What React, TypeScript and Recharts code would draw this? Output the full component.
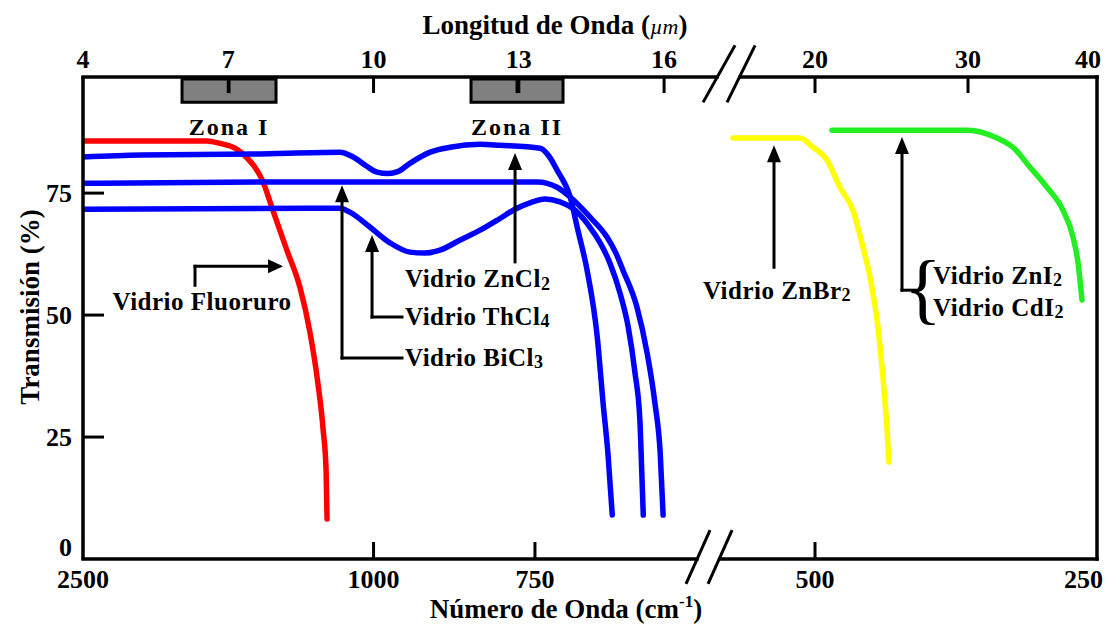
import { LineChart, Line, XAxis, YAxis, ReferenceLine, ReferenceDot, ReferenceArea, Label } from "recharts";

const serif = '"Liberation Serif", "Times New Roman", Times, serif';

// transmission curves: wavelength (µm) and transmission (%)
const fluoruroWl = [4.0, 6.56, 6.83, 7.14, 7.39, 7.55, 7.7, 7.92, 8.21, 8.48, 8.69, 8.85, 8.96, 9.02, 9.04];
const fluoruroT = [85.7, 85.7, 85.2, 84.2, 82.2, 80.3, 77.7, 71.5, 63.3, 55.7, 46.3, 36.1, 26.4, 18.2, 8.2];

const znCl2Wl = [4.0, 5.2, 7.5, 9.31, 9.58, 9.86, 10.07, 10.3, 10.5, 10.75, 11.17, 11.58, 12.2, 12.61, 13.44, 13.62, 13.79, 14.06, 14.22, 14.41, 14.62, 14.74, 14.84, 14.93];
const znCl2T = [82.4, 82.8, 83.0, 83.4, 82.4, 80.5, 79.3, 79.0, 79.4, 81.1, 83.4, 84.4, 85.0, 84.8, 84.2, 82.6, 79.7, 74.2, 67.4, 59.2, 45.5, 32.0, 21.7, 9.0];

const biCl3Wl = [4.0, 8.07, 13.38, 13.79, 14.06, 14.47, 14.82, 15.0, 15.15, 15.44, 15.65, 15.81, 15.92, 15.98];
const biCl3T = [77.0, 77.3, 77.3, 76.2, 74.2, 70.1, 66.0, 62.8, 59.2, 51.6, 42.2, 32.0, 21.7, 9.0];

const thCl4Wl = [4.0, 6.42, 9.31, 9.51, 9.93, 10.34, 10.75, 11.06, 11.37, 11.79, 12.2, 12.61, 12.92, 13.23, 13.54, 13.85, 14.16, 14.47, 14.68, 14.88, 15.09, 15.26, 15.4, 15.5, 15.54, 15.57];
const thCl4T = [71.7, 71.8, 71.9, 71.1, 68.0, 64.8, 62.9, 62.7, 63.3, 65.4, 67.4, 69.8, 71.7, 73.0, 73.8, 73.2, 71.5, 68.0, 64.8, 60.7, 54.5, 47.5, 38.1, 28.5, 17.6, 9.0];

const znBr2Wl = [15.47, 17.44, 19.12, 19.88, 20.71, 21.49, 22.29, 22.85, 23.36, 23.87, 24.19, 24.45, 24.58];
const znBr2T = [86.3, 86.3, 86.3, 84.4, 81.8, 76.2, 71.5, 64.8, 57.8, 47.5, 37.3, 27.0, 19.9];

const znI2Wl = [21.01, 25.5, 30.0, 32.12, 33.32, 34.63, 35.95, 37.22, 38.03, 38.44, 38.76];
const znI2T = [87.9, 87.9, 87.9, 86.3, 84.4, 80.3, 76.2, 71.5, 66.0, 60.7, 53.1];

// axis ticks
const wlTicksLeft = [4, 7, 10, 13, 16];
const wlTicksRight = [20, 30, 40];
const wnTicksLeft = [2500, 1000, 750];
const wnTicksRight = [500, 250];
const tTicks = [0, 25, 50, 75];

// broken x axis: linear in µm up to the break, sqrt beyond it
const LIN_DOMAIN: [number, number] = [4, 24.94];
const SQRT_DOMAIN: [number, number] = [-0.1132, 40];
const T_DOMAIN: [number, number] = [0, 98.8];

const rows = (wl: number[], t: number[]) => wl.map((w, i) => ({ w, t: t[i] }));

const curves = [
  { id: "fluoruro", axis: "lin", color: "#ff0000", data: rows(fluoruroWl, fluoruroT) },
  { id: "zncl2", axis: "lin", color: "#0000ff", data: rows(znCl2Wl, znCl2T) },
  { id: "bicl3", axis: "lin", color: "#0000ff", data: rows(biCl3Wl, biCl3T) },
  { id: "thcl4", axis: "lin", color: "#0000ff", data: rows(thCl4Wl, thCl4T) },
  { id: "znbr2", axis: "sqrt", color: "#ffff00", data: rows(znBr2Wl, znBr2T) },
  { id: "zni2", axis: "sqrt", color: "#22ee22", data: rows(znI2Wl, znI2T) },
];

// annotation layout (axis coordinates)
const zones = [
  { label: "Zona I", w1: 6.045, w2: 7.986 },
  { label: "Zona II", w1: 12.013, w2: 13.913 },
];

const upArrows = [
  { axis: "lin", w: 9.349, from: 41.2, to: 76.6 },
  { axis: "lin", w: 9.969, from: 49.6, to: 66.4 },
  { axis: "lin", w: 12.922, from: 60.9, to: 83.2 },
  { axis: "sqrt", w: 17.663, from: 59.8, to: 84.8 },
  { axis: "sqrt", w: 25.438, from: 55.1, to: 86.5 },
];

const elbows = [
  { axis: "lin", t: 41.2, w1: 9.349, w2: 10.588 },
  { axis: "lin", t: 49.6, w1: 9.969, w2: 10.588 },
  { axis: "sqrt", t: 55.1, w1: 25.438, w2: 26.374 },
  { axis: "lin", t: 60.0, w1: 6.313, w2: 7.88 },
];

const notes = [
  { axis: "lin", w: 6.458, t: 52.7, text: "Vidrio Fluoruro", sub: "", anchor: "middle" },
  { axis: "lin", w: 10.65, t: 57.4, text: "Vidrio ZnCl", sub: "2", anchor: "start" },
  { axis: "lin", w: 10.65, t: 49.8, text: "Vidrio ThCl", sub: "4", anchor: "start" },
  { axis: "lin", w: 10.65, t: 41.4, text: "Vidrio BiCl", sub: "3", anchor: "start" },
  { axis: "sqrt", w: 17.829, t: 55.1, text: "Vidrio ZnBr", sub: "2", anchor: "middle" },
  { axis: "sqrt", w: 27.534, t: 58.2, text: "Vidrio ZnI", sub: "2", anchor: "start" },
  { axis: "sqrt", w: 27.534, t: 51.6, text: "Vidrio CdI", sub: "2", anchor: "start" },
];

const frame = [
  { axis: "lin", a: { x: 4, y: 98.8 }, b: { x: 17.09, y: 98.8 } },
  { axis: "lin", a: { x: 17.57, y: 98.8 }, b: { x: 24.94, y: 98.8 } },
  { axis: "lin", a: { x: 4, y: 0 }, b: { x: 16.68, y: 0 } },
  { axis: "lin", a: { x: 17.16, y: 0 }, b: { x: 24.94, y: 0 } },
  { axis: "lin", a: { x: 24.94, y: 0 }, b: { x: 24.94, y: 98.8 } },
];

const breakMarks = [
  { a: { x: 16.805, y: 93.6 }, b: { x: 17.466, y: 105.3 } },
  { a: { x: 17.3, y: 93.6 }, b: { x: 17.879, y: 105.3 } },
  { a: { x: 16.453, y: -5.1 }, b: { x: 16.949, y: 5.9 } },
  { a: { x: 16.908, y: -5.1 }, b: { x: 17.404, y: 5.9 } },
];

const tickFont = { fontFamily: serif, fontWeight: 700, fontSize: 26, fill: "#000" };
const titleFont = { ...tickFont, fontSize: 27 };
const noteFont = { fontFamily: serif, fontWeight: 700, fontSize: 25, fill: "#000", letterSpacing: 0.5 };

function TopTick(props: any) {
  const { x, y, payload } = props;
  const v = payload.value;
  const edge = v === 4 || v === 40;
  return (
    <g>
      {!edge && <line x1={x} x2={x} y1={y} y2={y + 16} stroke="#000" strokeWidth={3} />}
      <text x={v === 40 ? x + 4 : x} y={y - 9} textAnchor={v === 40 ? "end" : "middle"} {...tickFont}>
        {v}
      </text>
    </g>
  );
}

function BottomTick(props: any) {
  const { x, y, payload } = props;
  const wn = Math.round(1e4 / payload.value);
  const edge = wn === 2500 || wn === 250;
  return (
    <g>
      {!edge && <line x1={x} x2={x} y1={y} y2={y - 17} stroke="#000" strokeWidth={3} />}
      <text x={wn === 250 ? x + 6 : x} y={y + 29} textAnchor={wn === 250 ? "end" : "middle"} {...tickFont}>
        {wn}
      </text>
    </g>
  );
}

function LeftTick(props: any) {
  const { x, y, payload } = props;
  const v = payload.value;
  return (
    <g>
      {v !== 0 && <line x1={x} x2={x + 21} y1={y} y2={y} stroke="#000" strokeWidth={3} />}
      <text x={x - 11} y={v === 0 ? y - 12 : y} textAnchor="end" dominantBaseline="central" {...tickFont}>
        {v}
      </text>
    </g>
  );
}

const TopTitle = ({ viewBox }: any) => (
  <text x={viewBox.x + 472} y={viewBox.y + 26} textAnchor="middle" {...titleFont}>
    Longitud de Onda (
    <tspan fontStyle="italic" fontWeight={400} fontSize={22}>
      µm
    </tspan>
    )
  </text>
);

const BottomTitle = ({ viewBox }: any) => (
  <text x={viewBox.x + 483} y={viewBox.y + 59} textAnchor="middle" {...titleFont}>
    Número de Onda (cm
    <tspan fontSize={17} dy={-11}>
      -1
    </tspan>
    <tspan dy={11}>)</tspan>
  </text>
);

const SideTitle = ({ viewBox }: any) => {
  const cx = viewBox.x + 22;
  const cy = viewBox.y + 230;
  return (
    <text x={cx} y={cy} transform={`rotate(-90 ${cx} ${cy})`} textAnchor="middle" dominantBaseline="central" {...titleFont}>
      Transmisión (%)
    </text>
  );
};

const upHead = ({ cx, cy }: any) => (
  <polygon points={`${cx},${cy} ${cx - 7},${cy + 17} ${cx + 7},${cy + 17}`} fill="#000" />
);

const rightHead = ({ cx, cy }: any) => (
  <polygon points={`${cx},${cy} ${cx - 15},${cy - 7} ${cx - 15},${cy + 7}`} fill="#000" />
);

const noteShape = (text: string, sub: string, anchor: string, style: any = noteFont) => ({ cx, cy }: any) => (
  <text x={cx} y={cy} textAnchor={anchor} dominantBaseline="central" {...style}>
    {text}
    {sub && (
      <tspan fontSize={18} dy={5}>
        {sub}
      </tspan>
    )}
  </text>
);

export default function App() {
  return (
    <div style={{ width: 1103, height: 617, background: "#fff" }}>
      <LineChart width={1103} height={617} margin={{ top: 0, right: 14, bottom: 0, left: 0 }}>
        <XAxis
          xAxisId="lin"
          type="number"
          dataKey="w"
          orientation="top"
          height={69}
          domain={LIN_DOMAIN}
          allowDataOverflow
          ticks={wlTicksLeft}
          interval={0}
          tickSize={0}
          tickMargin={0}
          tickLine={false}
          axisLine={false}
          tick={TopTick}
        >
          <Label content={TopTitle} />
        </XAxis>
        <XAxis
          xAxisId="sqrt"
          type="number"
          dataKey="w"
          scale="sqrt"
          orientation="top"
          mirror
          domain={SQRT_DOMAIN}
          allowDataOverflow
          ticks={wlTicksRight}
          interval={0}
          tickSize={0}
          tickMargin={0}
          tickLine={false}
          axisLine={false}
          tick={TopTick}
        />
        <XAxis
          xAxisId="wnLin"
          type="number"
          dataKey="w"
          orientation="bottom"
          height={66}
          domain={LIN_DOMAIN}
          allowDataOverflow
          ticks={wnTicksLeft.map((n) => 1e4 / n)}
          interval={0}
          tickSize={0}
          tickMargin={0}
          tickLine={false}
          axisLine={false}
          tick={BottomTick}
        >
          <Label content={BottomTitle} />
        </XAxis>
        <XAxis
          xAxisId="wnSqrt"
          type="number"
          dataKey="w"
          scale="sqrt"
          orientation="bottom"
          mirror
          domain={SQRT_DOMAIN}
          allowDataOverflow
          ticks={wnTicksRight.map((n) => 1e4 / n)}
          interval={0}
          tickSize={0}
          tickMargin={0}
          tickLine={false}
          axisLine={false}
          tick={BottomTick}
        />
        <YAxis
          type="number"
          dataKey="t"
          width={75}
          domain={T_DOMAIN}
          allowDataOverflow
          ticks={tTicks}
          interval={0}
          tickSize={0}
          tickMargin={0}
          tickLine={false}
          axisLine={{ stroke: "#000", strokeWidth: 3.5 }}
          tick={LeftTick}
        >
          <Label content={SideTitle} />
        </YAxis>

        {zones.map((z) => (
          <ReferenceArea
            key={z.label}
            xAxisId="lin"
            x1={z.w1}
            x2={z.w2}
            y1={93.6}
            y2={98.4}
            fill="#808080"
            fillOpacity={1}
            stroke="#000"
            strokeWidth={3}
            ifOverflow="visible"
          />
        ))}
        {zones.map((z) => (
          <ReferenceLine
            key={`zt-${z.label}`}
            xAxisId="lin"
            segment={[{ x: (z.w1 + z.w2) / 2, y: 98.8 }, { x: (z.w1 + z.w2) / 2, y: 95.5 }]}
            stroke="#000"
            strokeWidth={3}
            ifOverflow="visible"
          />
        ))}

        {frame.map((f, i) => (
          <ReferenceLine key={`f${i}`} xAxisId={f.axis} segment={[f.a, f.b]} stroke="#000" strokeWidth={3.5} strokeLinecap="square" ifOverflow="visible" />
        ))}
        {breakMarks.map((m, i) => (
          <ReferenceLine key={`b${i}`} xAxisId="lin" segment={[m.a, m.b]} stroke="#000" strokeWidth={3} ifOverflow="visible" />
        ))}

        {curves.map((c) => (
          <Line
            key={c.id}
            xAxisId={c.axis}
            data={c.data}
            dataKey="t"
            type="monotone"
            stroke={c.color}
            strokeWidth={5.5}
            strokeLinecap="round"
            strokeLinejoin="round"
            dot={false}
            activeDot={false}
            isAnimationActive={false}
          />
        ))}

        {upArrows.map((a, i) => (
          <ReferenceLine
            key={`a${i}`}
            xAxisId={a.axis}
            segment={[{ x: a.w, y: a.from }, { x: a.w, y: a.to - 2 }]}
            stroke="#000"
            strokeWidth={3}
            strokeLinecap="square"
            ifOverflow="visible"
          />
        ))}
        {upArrows.map((a, i) => (
          <ReferenceDot key={`ah${i}`} xAxisId={a.axis} x={a.w} y={a.to} r={0} shape={upHead} ifOverflow="visible" />
        ))}
        <ReferenceLine
          xAxisId="lin"
          segment={[{ x: 6.313, y: 56.1 }, { x: 6.313, y: 60.0 }]}
          stroke="#000"
          strokeWidth={3}
          strokeLinecap="square"
          ifOverflow="visible"
        />
        {elbows.map((e, i) => (
          <ReferenceLine
            key={`e${i}`}
            xAxisId={e.axis}
            segment={[{ x: e.w1, y: e.t }, { x: e.w2, y: e.t }]}
            stroke="#000"
            strokeWidth={3}
            strokeLinecap="square"
            ifOverflow="visible"
          />
        ))}
        <ReferenceDot xAxisId="lin" x={8.131} y={60.0} r={0} shape={rightHead} ifOverflow="visible" />

        {zones.map((z) => (
          <ReferenceDot
            key={`zl-${z.label}`}
            xAxisId="lin"
            x={(z.w1 + z.w2) / 2}
            y={88.5}
            r={0}
            shape={noteShape(z.label, "", "middle", { ...noteFont, fontSize: 24, letterSpacing: 2 })}
            ifOverflow="visible"
          />
        ))}
        {notes.map((n, i) => (
          <ReferenceDot
            key={`n${i}`}
            xAxisId={n.axis}
            x={n.w}
            y={n.t}
            r={0}
            shape={noteShape(n.text, n.sub, n.anchor)}
            ifOverflow="visible"
          />
        ))}
        <ReferenceDot
          xAxisId="sqrt"
          x={26.85}
          y={55.5}
          r={0}
          shape={noteShape("{", "", "middle", { fontFamily: serif, fontWeight: 400, fontSize: 78, fill: "#000" })}
          ifOverflow="visible"
        />
      </LineChart>
    </div>
  );
}
